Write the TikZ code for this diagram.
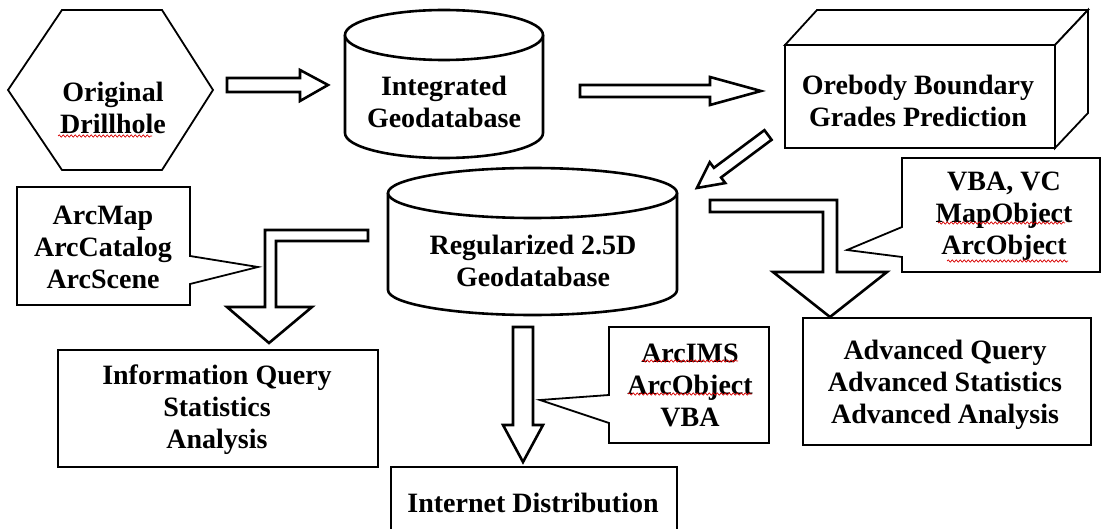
\documentclass[tikz,border=0pt]{standalone}
\usepackage{fontspec}
\setmainfont{Liberation Serif}
\usetikzlibrary{decorations.pathmorphing}
\tikzset{
  lbl/.style={font=\bfseries\fontsize{28}{32}\selectfont, align=center, inner sep=0pt},
  boxline/.style={draw=black, line width=1.8pt, fill=white},
  blockarrow/.style={draw=black, line width=2.6pt, fill=white, line join=miter},
  cyl/.style={draw=black, line width=2.6pt, fill=white},
  squig/.style={draw=red!85!black, line width=0.7pt, decorate, decoration={snake, amplitude=1.1pt, segment length=4pt}},
}
\begin{document}
\begin{tikzpicture}[x=1pt,y=-1pt]
\useasboundingbox (0,0) rectangle (1103,529);
\clip (0,0) rectangle (1103,529);
\fill[white] (0,0) rectangle (1103,529);

% Original Drillhole hexagon
\draw[boxline] (8,90) -- (62,10) -- (162,10) -- (213,90) -- (162,170) -- (62,170) -- cycle;
\node[lbl] (drill) at (113,108) {Original\\Drillhole};

% Integrated Geodatabase cylinder
\draw[cyl] (345,35) -- (345,133) arc[start angle=180, end angle=0, x radius=99, y radius=25] -- (543,35);
\draw[cyl] (444,35) ellipse[x radius=99, y radius=25];
\node[lbl] (integ) at (444,102) {Integrated\\Geodatabase};

% Orebody cuboid
\draw[boxline] (785,45) -- (817,10) -- (1088,10) -- (1055,45) -- cycle;
\draw[boxline] (1055,45) -- (1088,10) -- (1088,113) -- (1055,148) -- cycle;
\draw[boxline] (785,45) rectangle (1055,148);
\node[lbl] (ore) at (918,101) {Orebody Boundary\\Grades Prediction};

% Regularized 2.5D Geodatabase cylinder
\draw[cyl] (388,193) -- (388,290) arc[start angle=180, end angle=0, x radius=144.5, y radius=25] -- (677,193);
\draw[cyl] (532.5,193) ellipse[x radius=144.5, y radius=25];
\node[lbl] (reg) at (533,261) {Regularized 2.5D\\Geodatabase};

% arrows
\draw[blockarrow] (227,78) -- (300,78) -- (300,70) -- (328,85) -- (300,101) -- (300,92) -- (227,92) -- cycle;
\draw[blockarrow] (580,85) -- (710,85) -- (710,77) -- (761,91) -- (710,105) -- (710,97) -- (580,97) -- cycle;
\begin{scope}[shift={(768,135)}, rotate=216.7]
\draw[blockarrow] (0,-6) -- (63,-6) -- (63,-13) -- (88.6,0) -- (63,13) -- (63,6) -- (0,6) -- cycle;
\end{scope}
\draw[blockarrow] (368,230) -- (265,230) -- (265,307) -- (227,307) -- (269,343) -- (312,307) -- (276,307) -- (276,241) -- (368,241) -- cycle;
\draw[blockarrow] (710,200) -- (837,200) -- (837,272) -- (887,272) -- (830,317) -- (773,272) -- (823,272) -- (823,212) -- (710,212) -- cycle;
\draw[blockarrow] (513,327) -- (533,327) -- (533,425) -- (543,425) -- (523,462) -- (503,425) -- (513,425) -- cycle;

% ArcMap callout
\draw[boxline] (17,187) -- (190,187) -- (190,256) -- (258,267) -- (190,284) -- (190,305) -- (17,305) -- cycle;
\node[lbl] (arcmap) at (103,247) {ArcMap\\ArcCatalog\\ArcScene};

% Information Query box
\draw[boxline] (58,350) rectangle (378,467);
\node[lbl] (info) at (217,410) {Information Query\\Statistics\\Analysis};

% ArcIMS callout
\draw[boxline] (609,327) -- (769,327) -- (769,443) -- (609,443) -- (609,423) -- (540,400) -- (609,395) -- cycle;
\node[lbl] (arcims) at (690,385) {ArcIMS\\ArcObject\\VBA};

% Internet Distribution box
\draw[boxline] (391,545) -- (391,467) -- (677,467) -- (677,545);
\node[lbl] (inet) at (533,503) {Internet Distribution};

% VBA VC callout
\draw[boxline] (902,158) -- (1100,158) -- (1100,272) -- (902,272) -- (902,257) -- (847,250) -- (902,227) -- cycle;
\node[lbl] (vba) at (1004,216) {VBA, VC\\MapObject\\ArcObject};

% Advanced box
\draw[boxline] (803,318) rectangle (1091,445);
\node[lbl] (adv) at (945,385) {Advanced Query\\Advanced Statistics\\Advanced Analysis};

% spell-check underlines
\draw[squig] (58,136) -- (152,136);
\draw[squig] (642,361) -- (738,361);
\draw[squig] (628,394) -- (752,394);
\draw[squig] (938,223) -- (1065,223);
\draw[squig] (947,261) -- (1068,261);
\end{tikzpicture}
\end{document}
